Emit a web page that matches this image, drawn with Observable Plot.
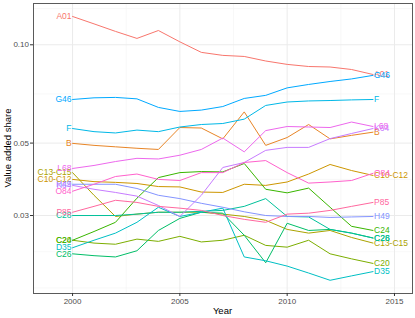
<!DOCTYPE html>
<html>
<head>
<meta charset="utf-8">
<script src="https://cdn.jsdelivr.net/npm/d3@7"></script>
<script src="https://cdn.jsdelivr.net/npm/@observablehq/plot@0.6"></script>
<style>
  html, body { margin: 0; padding: 0; background: white; }
</style>
</head>
<body>
<div id="chart"></div>
<script>
const years = [2000,2001,2002,2003,2004,2005,2006,2007,2008,2009,2010,2011,2012,2013,2014];
const seriesNames = ["A01","B","C10-C12","C13-C15","C20","C24","C26","C28","D35","F","G46","H49","K64","L68","O84","P85"];
const seriesColors = ["#F8766D","#E88526","#CD9600","#ABA300","#7CAE00","#39B600","#00BE67","#00C19A","#00BFC4","#00B8E7","#00A9FF","#8494FF","#C77CFF","#ED68ED","#FF61CC","#FF689F"];

const A01     = [0.1221,0.1159,0.1099,0.1046,0.1106,0.1021,0.0948,0.0928,0.0921,0.0892,0.0871,0.0858,0.0855,0.0840,0.0811];
const B       = [0.0499,0.0492,0.0487,0.0482,0.0478,0.0558,0.0556,0.0515,0.0623,0.0492,0.0520,0.0570,0.0515,0.0528,0.0540];
const C10_C12 = [0.0387,0.0381,0.0379,0.0376,0.0368,0.0367,0.0354,0.0353,0.0374,0.0371,0.0380,0.0402,0.0430,0.0412,0.0398];
const C13_C15 = [0.0406,0.0346,0.0298,0.0303,0.0307,0.0307,0.0307,0.0303,0.0298,0.0290,0.0272,0.0265,0.0270,0.0257,0.0247];
const C20     = [0.0252,0.0247,0.0245,0.0254,0.0250,0.0259,0.0249,0.0252,0.0261,0.0243,0.0240,0.0252,0.0229,0.0221,0.0214];
const C24     = [0.0252,0.0268,0.0286,0.0339,0.0392,0.0406,0.0409,0.0408,0.0433,0.0361,0.0352,0.0364,0.0318,0.0278,0.0270];
const C26     = [0.0229,0.0226,0.0224,0.0234,0.0270,0.0294,0.0307,0.0305,0.0261,0.0215,0.0284,0.0270,0.0272,0.0265,0.0256];
const C28     = [0.0300,0.0300,0.0300,0.0303,0.0307,0.0307,0.0309,0.0311,0.0320,0.0338,0.0298,0.0297,0.0272,0.0265,0.0256];
const D35     = [0.0239,0.0252,0.0265,0.0286,0.0318,0.0298,0.0307,0.0316,0.0224,0.0218,0.0210,0.0200,0.0190,0.0196,0.0202];
const F       = [0.0554,0.0542,0.0537,0.0548,0.0542,0.0560,0.0570,0.0574,0.0592,0.0652,0.0668,0.0673,0.0675,0.0678,0.0680];
const G46     = [0.0680,0.0688,0.0690,0.0683,0.0643,0.0625,0.0631,0.0647,0.0685,0.0700,0.0738,0.0756,0.0772,0.0786,0.0806];
const H49     = [0.0374,0.0374,0.0374,0.0363,0.0346,0.0338,0.0327,0.0318,0.0308,0.0300,0.0298,0.0298,0.0296,0.0297,0.0298];
const K64     = [0.0371,0.0361,0.0353,0.0344,0.0322,0.0298,0.0346,0.0421,0.0436,0.0475,0.0485,0.0485,0.0516,0.0535,0.0554];
const L68     = [0.0418,0.0427,0.0439,0.0449,0.0447,0.0459,0.0478,0.0518,0.0470,0.0546,0.0562,0.0560,0.0558,0.0580,0.0562];
const O84     = [0.0356,0.0374,0.0395,0.0402,0.0387,0.0384,0.0406,0.0406,0.0436,0.0442,0.0406,0.0377,0.0380,0.0384,0.0404];
const P85     = [0.0307,0.0320,0.0334,0.0329,0.0320,0.0316,0.0311,0.0300,0.0292,0.0286,0.0303,0.0305,0.0311,0.0320,0.0329];

const xTicks = [2000, 2005, 2010, 2015];
const xMinor = [2002.5, 2007.5, 2012.5];
const yTicks = [0.03, 0.05, 0.10];
const yMinor = [0.1291, 0.0707, 0.0387, 0.02324, 0.018];
const xTitle = "Year";
const yTitle = "Value added share";

const seriesValues = [A01,B,C10_C12,C13_C15,C20,C24,C26,C28,D35,F,G46,H49,K64,L68,O84,P85];
const rows = [];
seriesNames.forEach((s, i) => {
  years.forEach((yr, j) => rows.push({series: s, year: yr, value: seriesValues[i][j]}));
});
const firstRows = rows.filter(d => d.year === years[0]);
const lastRows = rows.filter(d => d.year === years[years.length - 1]);

const W = 415, H = 318;
const mL = 33, mR = 3, mT = 3, mB = 25;

const chart = Plot.plot({
  width: W, height: H,
  marginLeft: mL, marginRight: mR, marginTop: mT, marginBottom: mB,
  style: {fontFamily: "'Liberation Sans', Arial, sans-serif", background: "white", color: "#4d4d4d", fontSize: "8px"},
  x: {domain: [1998.18, 2015.84], label: null},
  y: {type: "log", domain: [0.01731, 0.1338], label: null},
  color: {domain: seriesNames, range: seriesColors},
  marks: [
    Plot.ruleX(xMinor, {stroke: "#f3f3f3", strokeWidth: 0.6}),
    Plot.ruleY(yMinor, {stroke: "#f3f3f3", strokeWidth: 0.6}),
    Plot.ruleX(xTicks, {stroke: "#ebebeb", strokeWidth: 1}),
    Plot.ruleY(yTicks, {stroke: "#ebebeb", strokeWidth: 1}),
    Plot.line(rows, {x: "year", y: "value", z: "series", stroke: "series", strokeWidth: 1}),
    Plot.text(firstRows, {x: "year", y: "value", text: "series", fill: "series", textAnchor: "end", dx: -1, fontSize: 8.5}),
    Plot.text(lastRows, {x: "year", y: "value", text: "series", fill: "series", textAnchor: "start", dx: 1, fontSize: 8.5}),
    Plot.frame({stroke: "#5a5a5a", strokeWidth: 1}),
    Plot.axisX({ticks: xTicks, tickFormat: d => String(d), tickSize: 3, tickPadding: 1.5, fontSize: 8, label: null, stroke: "#333"}),
    Plot.axisY({ticks: yTicks, tickFormat: d => d.toFixed(2), tickSize: 3, tickPadding: 1.5, fontSize: 8, label: null, stroke: "#333"})
  ]
});

document.getElementById("chart").appendChild(chart);
const svg = d3.select(chart);
svg.append("text")
  .attr("x", (mL + (W - mR)) / 2).attr("y", 313.5)
  .attr("text-anchor", "middle")
  .attr("fill", "black").attr("font-size", 9.5)
  .text(xTitle);
svg.append("text")
  .attr("transform", `translate(10.5, ${(mT + (H - mB)) / 2}) rotate(-90)`)
  .attr("text-anchor", "middle")
  .attr("fill", "black").attr("font-size", 9.5)
  .text(yTitle);
</script>
</body>
</html>
